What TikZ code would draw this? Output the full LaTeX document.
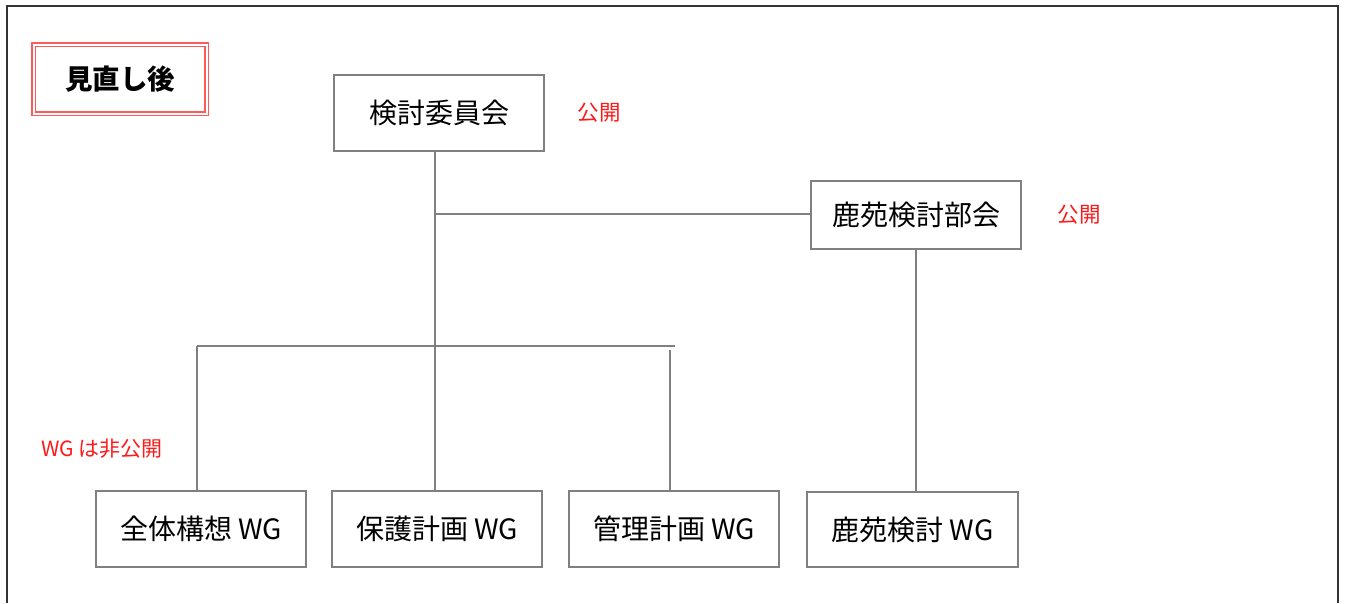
\documentclass[tikz,border=0pt]{standalone}
\usepackage{fontspec}
\newfontfamily\jpfont{Noto Sans CJK JP}
\definecolor{BoxGray}{rgb}{0.5, 0.5, 0.5}
\definecolor{FrameGray}{rgb}{0.2, 0.2, 0.2}
\definecolor{LabelRed}{rgb}{1, 0.1, 0.1}
\definecolor{TitleRed}{rgb}{1, 0.35, 0.35}

\tikzset{
	orgbox/.style={draw=BoxGray, line width=1.5pt, fill=white, minimum width=210pt, minimum height=76pt, inner sep=0pt, font=\jpfont\fontsize{28}{32}\selectfont},
	openlabel/.style={text=LabelRed, inner sep=0pt, font=\jpfont\fontsize{21.5}{25}\selectfont},
	link/.style={draw=BoxGray, line width=1.1pt}
}

\begin{document}
\begin{tikzpicture}[x=1pt,y=1pt,yscale=-1,xscale=1]
		\useasboundingbox (0,0) rectangle (1346,603);

		% Outer frame, open at the bottom
		\draw[FrameGray, line width=1.6pt] (7,603) -- (7,6) -- (1338,6) -- (1338,603);

		% Title box with the red double border
		\node[draw=TitleRed, double=white, double distance=2pt, line width=1.4pt, minimum width=173pt, minimum height=69pt, inner sep=0pt, font=\jpfont\bfseries\fontsize{27.5}{31}\selectfont] (title) at (120,79) {見直し後};

		% Committee and sub-committee
		\node[orgbox] (iinkai) at (439,113) {検討委員会};
		\node[orgbox, minimum height=68pt] (bukai) at (916,215) {鹿苑検討部会};

		% Working groups
		\node[orgbox] (wgzentai) at (201,529) {全体構想 WG};
		\node[orgbox] (wghogo) at (437,529) {保護計画 WG};
		\node[orgbox] (wgkanri) at (674,529) {管理計画 WG};
		\node[orgbox, minimum width=211pt, minimum height=75pt] (wgrokuon) at (912.5,529.5) {鹿苑検討 WG};

		% Red notes
		\node[openlabel] (koukai1) at (599,113) {公開};
		\node[openlabel] (koukai2) at (1079,215) {公開};
		\node[openlabel, font=\jpfont\fontsize{21}{25}\selectfont] (hikoukai) at (102,449) {WG は非公開};

		% Junction points of the tree
		\coordinate (trunk) at (435,214);
		\coordinate (barleft) at (197,346);
		\coordinate (barright) at (675,346);
		\coordinate (kanritop) at (670,350);

		% Connectors
		\draw[link] (iinkai.south -| trunk) -- (wghogo.north -| trunk);
		\draw[link] (trunk) -- (trunk -| bukai.west);
		\draw[link] (barleft) -- (barright);
		\draw[link] (barleft) -- (wgzentai.north -| barleft);
		\draw[link] (kanritop) -- (wgkanri.north -| kanritop);
		\draw[link] (bukai.south) -- (wgrokuon.north -| bukai.south);
	\end{tikzpicture}
\end{document}
